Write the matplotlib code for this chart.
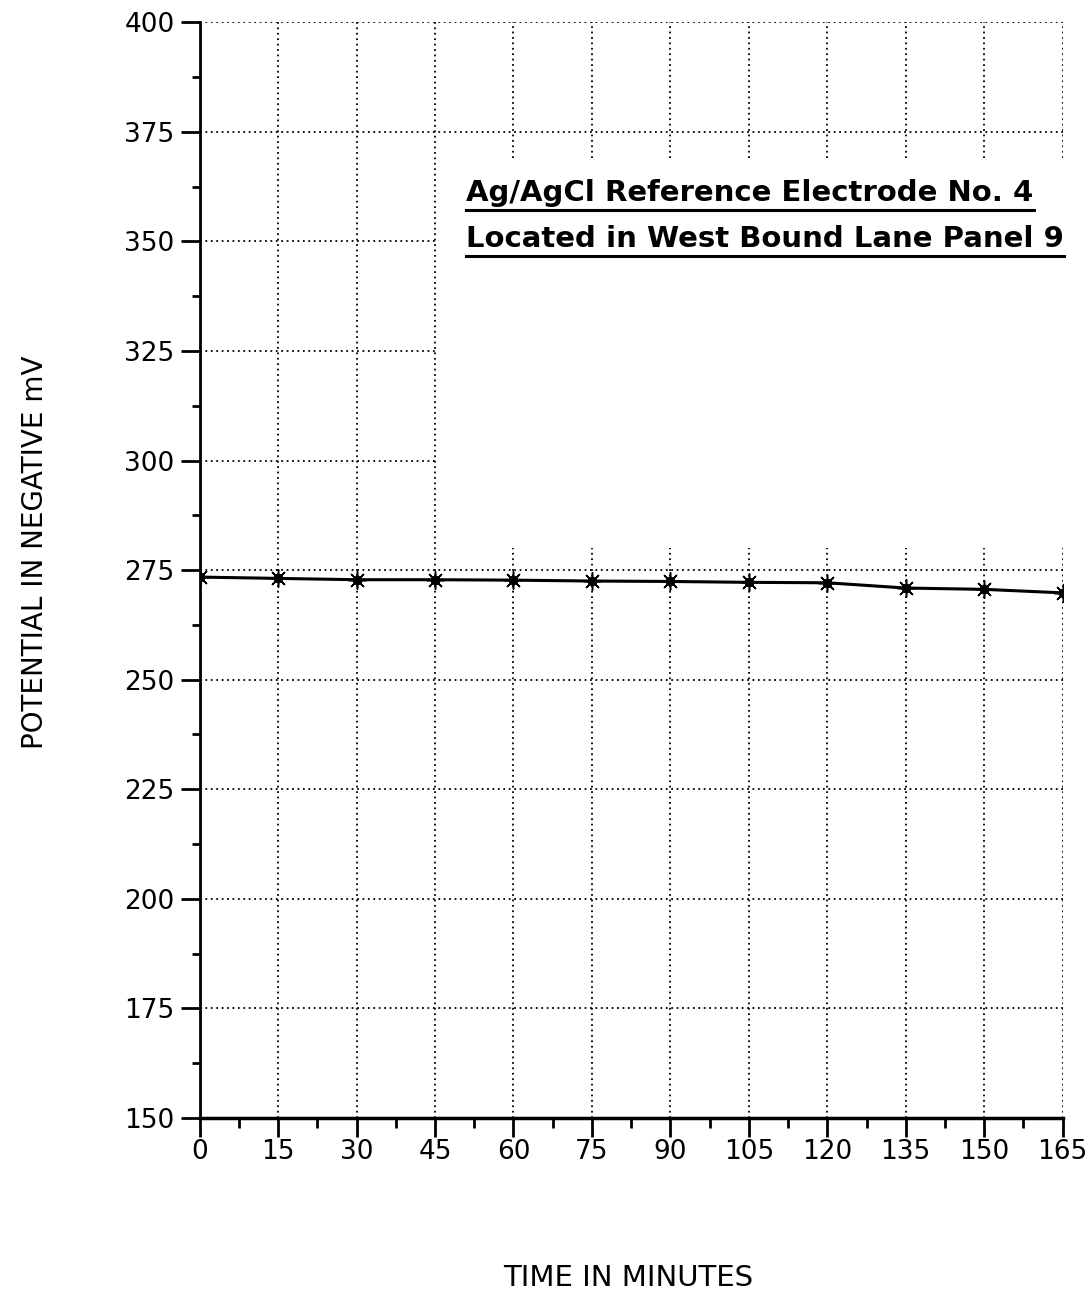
import numpy as np
import matplotlib
matplotlib.use("Agg")
import matplotlib.pyplot as plt
from matplotlib.lines import Line2D

# data
minutes = [0, 15, 30, 45, 60, 75, 90, 105, 120, 135, 150, 165]
potential = [273.4, 273.1, 272.8, 272.8, 272.7, 272.5, 272.4, 272.2, 272.1, 270.9, 270.6, 269.8]

x_ticks = np.arange(0, 166, 15)
y_ticks = np.arange(150, 401, 25)

title1 = "Ag/AgCl Reference Electrode No. 4"
title2 = "Located in West Bound Lane Panel 9"

plt.rcParams['font.family'] = ['DejaVu Sans']

fig = plt.figure(figsize=(10.91, 13.09), dpi=100)
ax = fig.add_axes([0.183, 0.146, 0.791, 0.837])
ax.set_xlim(0, 165)
ax.set_ylim(150, 400)

# dotted grid, left open behind the caption
dot = dict(color='black', lw=1.3, linestyle=(0, (1, 2)), zorder=1)
for yv in y_ticks[1:]:
    if 290 < yv < 370:
        ax.hlines(yv, 0, 45, **dot)
    else:
        ax.hlines(yv, 0, 165, **dot)
for xv in x_ticks[1:]:
    if xv <= 45:
        ax.vlines(xv, 150, 400, **dot)
    else:
        ax.vlines(xv, 150, 280, **dot)
        ax.vlines(xv, 369, 400, **dot)

ax.plot(minutes, potential, color='black', lw=2.2, zorder=3)
ax.plot(minutes, potential, linestyle='none', marker=(8, 2, 0), markersize=13,
        color='black', markeredgewidth=1.1, zorder=4)
ax.plot(minutes, potential, linestyle='none', marker='o', markersize=6,
        color='black', zorder=4)

for s in ['top', 'right']:
    ax.spines[s].set_visible(False)
ax.spines['left'].set_linewidth(2)
ax.spines['bottom'].set_linewidth(2.5)

ax.set_xticks(x_ticks)
ax.set_yticks(y_ticks)
ax.set_xticks(np.arange(7.5, 165, 15), minor=True)
ax.set_yticks(np.arange(162.5, 400, 25), minor=True)
ax.tick_params(axis='x', which='major', direction='out', length=14, width=2, labelsize=19, pad=1)
ax.tick_params(axis='x', which='minor', direction='out', length=7, width=2)
ax.tick_params(axis='y', which='major', direction='out', length=14, width=2, labelsize=19, pad=4)
ax.tick_params(axis='y', which='minor', direction='out', length=6, width=2)

fig.text(0.032, 0.578, "POTENTIAL IN NEGATIVE mV", rotation=90, ha='center', va='center', fontsize=20)
fig.text(0.576, 0.024, "TIME IN MINUTES", ha='center', va='center', fontsize=21)

t1 = ax.text(51, 359.2, title1, fontsize=21, fontweight='bold', ha='left', va='baseline', zorder=5)
t2 = ax.text(51, 348.7, title2, fontsize=21, fontweight='bold', ha='left', va='baseline', zorder=5)

fig.canvas.draw()
r = fig.canvas.get_renderer()
inv = fig.transFigure.inverted()
for t in (t1, t2):
    bb = t.get_window_extent(r)
    (x0, y0), (x1, y1) = inv.transform([(bb.x0, bb.y0), (bb.x1, bb.y0)])
    fig.add_artist(Line2D([x0, x1], [y0 - 0.002, y0 - 0.002], color='black', lw=2.2))

plt.savefig('out.png', dpi=100)
